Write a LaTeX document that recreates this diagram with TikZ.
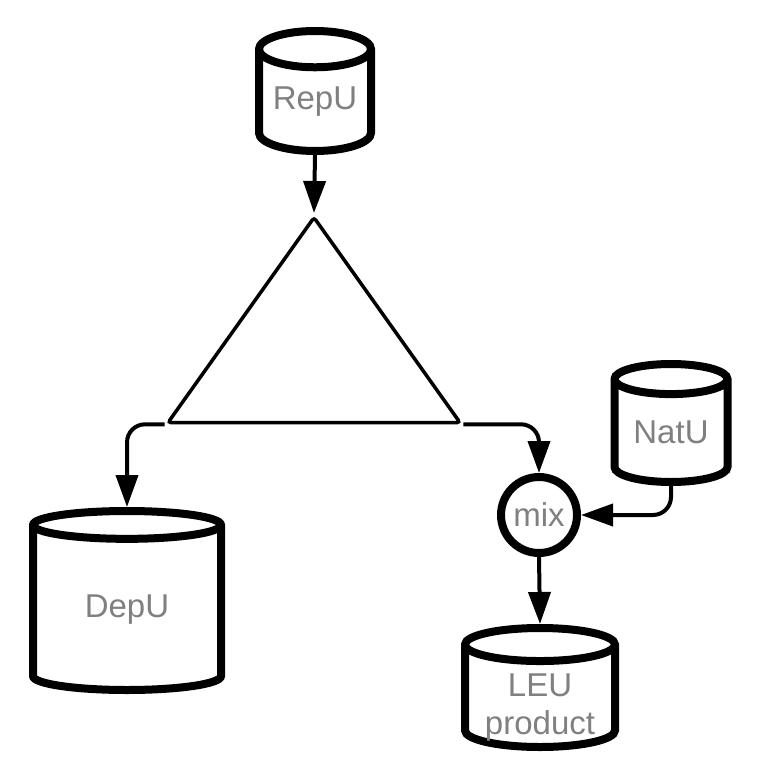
\documentclass[tikz,border=0pt]{standalone}
\usepackage{fontspec}
\setmainfont{Liberation Sans}
\usetikzlibrary{positioning, shapes.geometric, arrows.meta}
\definecolor{labelgray}{RGB}{128,128,128}

\tikzset{
  store/.style={cylinder, shape border rotate=90, draw, line width=8pt, aspect=0.4,
    inner sep=0pt, anchor=north, text=labelgray, align=center,
    font=\fontsize{33pt}{38pt}\selectfont},
  mixer/.style={circle, draw, line width=8pt, inner sep=0pt, minimum size=76pt,
    text=labelgray, font=\fontsize{33pt}{38pt}\selectfont},
  flow/.style={line width=4pt, rounded corners=18pt, -{Triangle[length=32pt,width=22pt]}},
}

\begin{document}
\begin{tikzpicture}[x=1pt, y=-1pt]
    \useasboundingbox (0,0) rectangle (756,773);
    % tanks
    \node[store, aspect=0.43, minimum width=112pt, minimum height=120pt] (repu) at (315,27) {RepU};
    \node[store, aspect=0.33, minimum width=188pt, minimum height=179pt] (depu) at (127,507) {DepU};
    \node[store, minimum width=113pt, minimum height=118pt] (natu) at (671,360) {NatU};
    \node[store, aspect=0.3, inner ysep=-20pt, minimum width=150pt, minimum height=119pt] (leu) at (540,624) {\rule{0pt}{43pt}LEU\\product};
    % enrichment and blending
    \node[isosceles triangle, shape border rotate=90, isosceles triangle stretches, draw,
      line width=3.5pt, inner sep=0pt, minimum width=292pt, minimum height=205pt,
      rounded corners=3pt, anchor=apex] (enrich) at (314,213) {};
    \node[mixer] (mix) at (539,515) {mix};
    % flows
    \draw[flow] (repu.south) -- (enrich.apex);
    \draw[flow] (enrich.left corner) -| (depu.north);
    \draw[flow] (enrich.right corner) -| (mix.north);
    \draw[flow] (natu.south) |- (mix.east);
    \draw[flow] (mix.south) -- (leu.north);
\end{tikzpicture}
\end{document}
